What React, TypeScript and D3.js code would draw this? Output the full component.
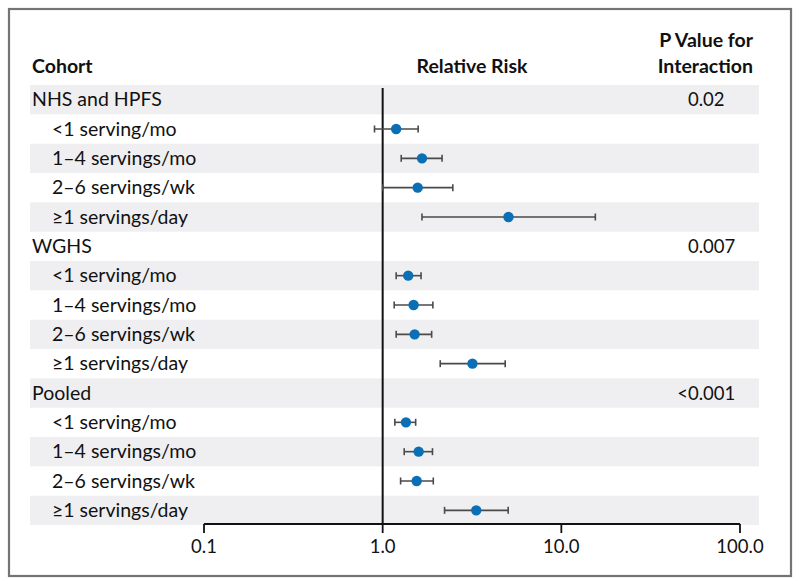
import * as d3 from "d3";

const GROUPS = ["NHS and HPFS", "WGHS", "Pooled"];
const PVALUES = ["0.02", "0.007", "<0.001"];
const LEVELS = ["<1 serving/mo", "1–4 servings/mo", "2–6 servings/wk", "≥1 servings/day"];

// relative risk estimates per group (rows follow LEVELS)
const RR = [
  [1.19, 1.66, 1.57, 5.06],
  [1.39, 1.49, 1.51, 3.18],
  [1.35, 1.59, 1.55, 3.34],
];
const LOWER = [
  [0.9, 1.27, 1.0, 1.66],
  [1.19, 1.16, 1.19, 2.1],
  [1.17, 1.32, 1.26, 2.22],
];
const UPPER = [
  [1.58, 2.15, 2.47, 15.5],
  [1.64, 1.91, 1.88, 4.85],
  [1.53, 1.9, 1.92, 5.04],
];
const TICKS = [0.1, 1, 10, 100];

const FONT = "Lato, 'Open Sans', sans-serif";

type Row = {
  label: string;
  header: boolean;
  p?: string;
  rr?: number;
  lo?: number;
  hi?: number;
};

const rows: Row[] = [];
GROUPS.forEach((g, gi) => {
  rows.push({ label: g, header: true, p: PVALUES[gi] });
  LEVELS.forEach((l, li) => {
    rows.push({ label: l, header: false, rr: RR[gi][li], lo: LOWER[gi][li], hi: UPPER[gi][li] });
  });
});

export default function App() {
  const width = 800;
  const height = 585;
  const x = d3.scaleLog().domain([0.1, 100]).range([204, 740]);
  const y = d3
    .scaleBand<number>()
    .domain(rows.map((_, i) => i))
    .range([85, 525])
    .padding(0);
  const bw = y.bandwidth();
  const axisY = 524;
  const cap = 3.5;

  return (
    <svg
      width={width}
      height={height}
      style={{ position: "absolute", left: 0, top: 0, background: "#fff" }}
      fontFamily={FONT}
    >
      <rect x={9} y={9} width={782} height={567} fill="#fff" stroke="#747474" strokeWidth={2.2} />

      {/* header */}
      <text x={32} y={73} fontSize={19.5} fontWeight={700} fill="#111">
        Cohort
      </text>
      <text x={472} y={73} fontSize={19.5} fontWeight={700} fill="#111" textAnchor="middle">
        Relative Risk
      </text>
      <text x={753} y={47} fontSize={19.5} fontWeight={700} fill="#111" textAnchor="end">
        P Value for
      </text>
      <text x={753} y={73} fontSize={19.5} fontWeight={700} fill="#111" textAnchor="end">
        Interaction
      </text>

      {/* row shading */}
      {rows.map((_, i) =>
        i % 2 === 0 ? (
          <rect key={"bg" + i} x={30} y={y(i)!} width={729} height={bw} fill="#efeff1" />
        ) : null
      )}

      {/* row labels */}
      {rows.map((r, i) => (
        <text
          key={"lb" + i}
          x={r.header ? 32 : 52}
          y={y(i)! + bw / 2 + 6.5}
          fontSize={19.5}
          fill="#111"
        >
          {r.label}
        </text>
      ))}

      {/* p values, aligned on the leading zero */}
      {rows.map((r, i) =>
        r.p ? (
          <g key={"p" + i}>
            {r.p.startsWith("<") ? (
              <text x={688} y={y(i)! + bw / 2 + 6.5} fontSize={18.5} fill="#111" textAnchor="end">
                {"<"}
              </text>
            ) : null}
            <text x={688} y={y(i)! + bw / 2 + 6.5} fontSize={18.5} fill="#111">
              {r.p.replace("<", "")}
            </text>
          </g>
        ) : null
      )}

      {/* reference line */}
      <line x1={x(1)} x2={x(1)} y1={88} y2={axisY} stroke="#111" strokeWidth={2} />

      {/* estimates */}
      {rows.map((r, i) => {
        if (r.header) return null;
        const cy = y(i)! + bw / 2;
        return (
          <g key={"est" + i}>
            <line x1={x(r.lo!)} x2={x(r.hi!)} y1={cy} y2={cy} stroke="#4a4a4a" strokeWidth={1.6} />
            <line x1={x(r.lo!)} x2={x(r.lo!)} y1={cy - cap} y2={cy + cap} stroke="#4a4a4a" strokeWidth={1.6} />
            <line x1={x(r.hi!)} x2={x(r.hi!)} y1={cy - cap} y2={cy + cap} stroke="#4a4a4a" strokeWidth={1.6} />
            <circle cx={x(r.rr!)} cy={cy} r={5.2} fill="#0b6fb5" />
          </g>
        );
      })}

      {/* axis */}
      <line x1={x(0.1)} x2={x(100)} y1={axisY} y2={axisY} stroke="#111" strokeWidth={1.8} />
      {TICKS.map((t) => (
        <g key={"t" + t}>
          <line x1={x(t)} x2={x(t)} y1={axisY} y2={axisY + 9} stroke="#111" strokeWidth={1.8} />
          <text x={x(t)} y={553} fontSize={18.5} fill="#111" textAnchor="middle">
            {t.toFixed(1)}
          </text>
        </g>
      ))}
    </svg>
  );
}
